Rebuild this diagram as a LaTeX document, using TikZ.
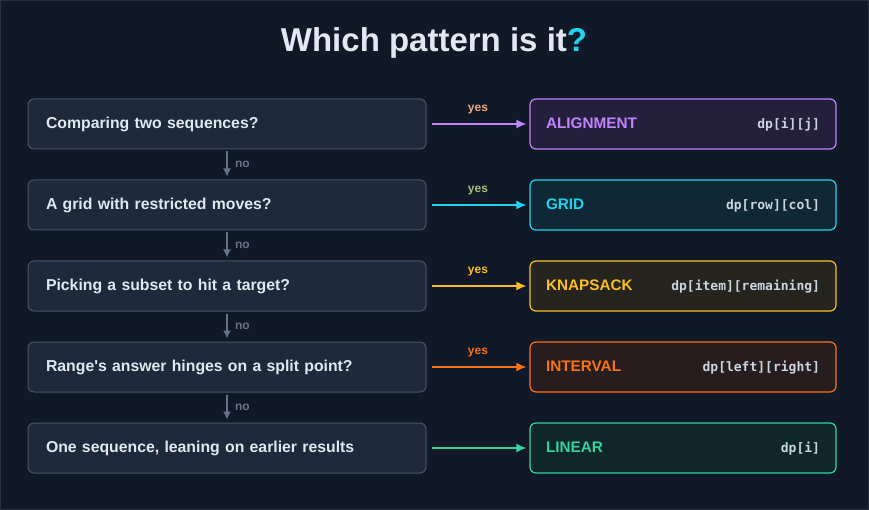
\documentclass[tikz,border=0pt]{standalone}
\usepackage{fontspec}
\setmainfont{Liberation Sans}
\setmonofont{DejaVu Sans Mono}
\usetikzlibrary{arrows.meta,positioning}

\definecolor{bg}{HTML}{111827}
\definecolor{qfill}{HTML}{1E293B}
\definecolor{qline}{HTML}{475569}
\definecolor{qtext}{HTML}{E2E8F0}
\definecolor{nogray}{HTML}{64748B}
\definecolor{alignc}{HTML}{C084FC}
\definecolor{alignf}{HTML}{241F3D}
\definecolor{gridc}{HTML}{22D3EE}
\definecolor{gridf}{HTML}{0F2836}
\definecolor{knapc}{HTML}{FBBF24}
\definecolor{knapf}{HTML}{26241F}
\definecolor{intc}{HTML}{F97316}
\definecolor{intf}{HTML}{281D1E}
\definecolor{linc}{HTML}{34D399}
\definecolor{linf}{HTML}{10272A}
\definecolor{codec}{HTML}{CBD5E1}
\definecolor{yespeach}{HTML}{F0A882}
\definecolor{yesolive}{HTML}{A3C37A}

\tikzset{
  question/.style={draw=qline, fill=qfill, rounded corners=6pt, line width=1pt,
    text width=362pt, inner xsep=18pt, minimum height=50pt, align=left,
    text height=12pt, text depth=3pt,
    text=qtext, font=\fontsize{15.8}{18}\selectfont\bfseries},
  pattern/.style={draw=#1, fill=#1!12!bg, rounded corners=6pt, line width=1.2pt,
    text width=274pt, inner xsep=16pt, minimum height=50pt,
    text height=12pt, text depth=3pt,
    font=\fontsize{15.3}{18}\selectfont\bfseries},
  yesarrow/.style={draw=#1, line width=1.6pt, -{Latex[length=10pt,width=9pt]}, shorten <=5pt, shorten >=3pt},
  noarrow/.style={draw=nogray, line width=1.4pt, -{Latex[length=8pt,width=8pt]}, shorten <=2pt, shorten >=3pt},
  yeslabel/.style={above=6pt, font=\fontsize{12}{14}\selectfont\bfseries},
  nolabel/.style={right=4pt, text=nogray, font=\fontsize{12}{14}\selectfont\bfseries}
}

\newcommand{\pline}[3]{\textcolor{#1}{#2}\hfill\textcolor{codec}{\ttfamily\fontsize{13}{15}\selectfont #3}}

\begin{document}
\begin{tikzpicture}[x=1pt,y=-1pt]
%background
\fill[bg] (0,0) rectangle (869,510);
\draw[qline!40!bg, line width=1pt] (0.5,0.5) rectangle (868.5,509.5);
\useasboundingbox (0,0) rectangle (869,510);

%title
\node[text=qtext, font=\fontsize{33}{38}\selectfont\bfseries] (title) at (434,43)
  {Which pattern is it\textcolor{gridc}{?}};

%questions
\node[question] (q1) at (227,124) {Comparing two sequences?};
\node[question] (q2) at (227,205) {A grid with restricted moves?};
\node[question] (q3) at (227,286) {Picking a subset to hit a target?};
\node[question] (q4) at (227,367) {Range\textquotesingle s answer hinges on a split point?};
\node[question] (q5) at (227,448) {One sequence, leaning on earlier results};

%patterns
\node[pattern=alignc, fill=alignf] (p1) at (683,124) {\pline{alignc}{ALIGNMENT}{dp[i][j]}};
\node[pattern=gridc, fill=gridf] (p2) at (683,205) {\pline{gridc}{GRID}{dp[row][col]}};
\node[pattern=knapc, fill=knapf] (p3) at (683,286) {\pline{knapc}{KNAPSACK}{dp[item][remaining]}};
\node[pattern=intc, fill=intf] (p4) at (683,367) {\pline{intc}{INTERVAL}{dp[left][right]}};
\node[pattern=linc, fill=linf] (p5) at (683,448) {\pline{linc}{LINEAR}{dp[i]}};

%yes arrows
\draw[yesarrow=alignc] (q1) -- (p1) node[midway, yeslabel, text=yespeach] (y1) {yes};
\draw[yesarrow=gridc] (q2) -- (p2) node[midway, yeslabel, text=yesolive] (y2) {yes};
\draw[yesarrow=knapc] (q3) -- (p3) node[midway, yeslabel, text=knapc] (y3) {yes};
\draw[yesarrow=intc] (q4) -- (p4) node[midway, yeslabel, text=intc] (y4) {yes};
\draw[yesarrow=linc] (q5) -- (p5);

%no arrows
\draw[noarrow] (q1) -- (q2) node[midway, nolabel] (n1) {no};
\draw[noarrow] (q2) -- (q3) node[midway, nolabel] (n2) {no};
\draw[noarrow] (q3) -- (q4) node[midway, nolabel] (n3) {no};
\draw[noarrow] (q4) -- (q5) node[midway, nolabel] (n4) {no};
\end{tikzpicture}
\end{document}
